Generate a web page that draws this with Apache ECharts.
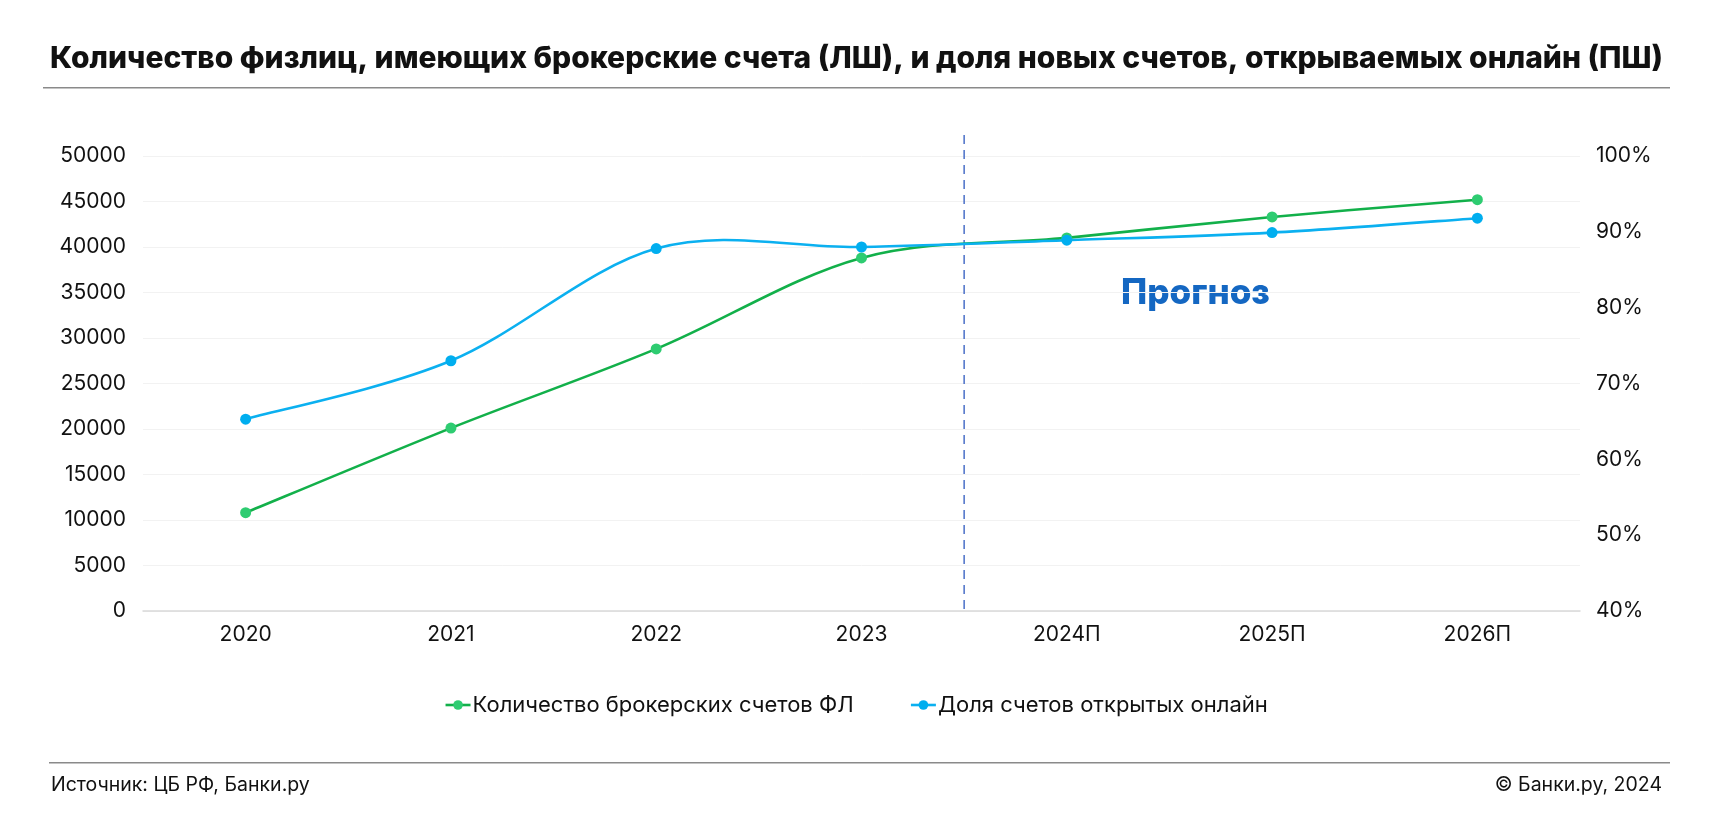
<!DOCTYPE html>
<html><head><meta charset="utf-8">
<script src="https://cdn.jsdelivr.net/npm/echarts@6/dist/echarts.min.js"></script>
<style>html,body{margin:0;padding:0;background:#fff}#c{width:1712px;height:826px}</style>
</head><body><div id="c"></div>
<script>
const categories = ['2020','2021','2022','2023','2024П','2025П','2026П'];
const accounts = [10800, 20100, 28800, 38800, 41000, 43300, 45200];
const onlineShare = [65.3, 73.0, 87.8, 88.0, 88.9, 89.9, 91.8];
const leftTicks = {min: 0, max: 50000, interval: 5000};
const rightTicks = {min: 40, max: 100, interval: 10};
const forecastBoundary = 3.5;
const forecastLineTop = 52300;
const titleText = 'Количество физлиц, имеющих брокерские счета (ЛШ), и доля новых счетов, открываемых онлайн (ПШ)';
const sourceText = 'Источник: ЦБ РФ, Банки.ру';
const copyrightText = '© Банки.ру, 2024';
const forecastText = 'Прогноз';
const seriesNames = ['Количество брокерских счетов ФЛ', 'Доля счетов открытых онлайн'];

const font = 'Inter';
const GREEN_LINE = '#12b04a', GREEN_DOT = '#2ecc71';
const BLUE_LINE = '#0bb0f0', BLUE_DOT = '#00aeef';

// Smooth curve (Catmull-Rom -> cubic Bezier) through points converted by the axes
function curveRenderer(values, color) {
  return function (params, api) {
    if (params.dataIndex !== 0) return null;
    const p = values.map((v, i) => api.coord([i, v]));
    const children = [];
    for (let i = 0; i < p.length - 1; i++) {
      const p0 = p[Math.max(i - 1, 0)], p1 = p[i], p2 = p[i + 1], p3 = p[Math.min(i + 2, p.length - 1)];
      const t = 1 / 6;
      children.push({
        type: 'bezierCurve',
        shape: {
          x1: p1[0], y1: p1[1], x2: p2[0], y2: p2[1],
          cpx1: p1[0] + (p2[0] - p0[0]) * t, cpy1: p1[1] + (p2[1] - p0[1]) * t,
          cpx2: p2[0] - (p3[0] - p1[0]) * t, cpy2: p2[1] - (p3[1] - p1[1]) * t
        },
        style: {stroke: color, lineWidth: 2.6, fill: null}
      });
    }
    return {type: 'group', children};
  };
}

const chart = echarts.init(document.getElementById('c'));
chart.setOption({
  animation: false,
  backgroundColor: '#fff',
  title: {
    text: titleText, left: 45, top: 39,
    textStyle: {fontFamily: font, fontWeight: 800, fontSize: 30, color: '#111'}
  },
  graphic: [
    {type: 'rect', shape: {x: 43, y: 87, width: 1627, height: 1.5}, style: {fill: '#8a8a8a'}},
    {type: 'rect', shape: {x: 49, y: 762, width: 1621, height: 1.5}, style: {fill: '#8a8a8a'}},
    {type: 'text', left: 51, top: 775, style: {text: sourceText, font: '19.5px ' + font, fill: '#111'}},
    {type: 'text', right: 50, top: 775, style: {text: copyrightText, font: '19.5px ' + font, fill: '#111'}},
    {type: 'text', left: 1121, top: 276, style: {text: forecastText, font: '800 35px ' + font, fill: '#1467c2'}}
  ],
  legend: {
    top: 689, left: 'center', itemGap: 56, itemWidth: 25, itemHeight: 12,
    textStyle: {fontFamily: font, fontSize: 22, color: '#111', padding: [0, 0, 0, -3]},
    data: [
      {name: seriesNames[0], lineStyle: {opacity: 1, width: 2.6, color: GREEN_LINE}},
      {name: seriesNames[1], lineStyle: {opacity: 1, width: 2.6, color: BLUE_LINE}}
    ]
  },
  grid: {left: 143, right: 132, top: 156, bottom: 215},
  xAxis: [{
    type: 'category', data: categories, boundaryGap: true,
    axisLine: {lineStyle: {color: '#d9d9d9', width: 1.5}}, axisTick: {show: false},
    axisLabel: {fontFamily: font, fontSize: 21, color: '#111', margin: 13}
  }, {
    type: 'value', min: -0.5, max: 6.5, show: false
  }],
  yAxis: [{
    type: 'value', min: leftTicks.min, max: leftTicks.max, interval: leftTicks.interval,
    axisLabel: {fontFamily: font, fontSize: 21, color: '#111', margin: 17, formatter: v => String(v)},
    splitLine: {lineStyle: {color: '#f2f2f2'}}, axisLine: {show: false, onZero: false}, axisTick: {show: false}
  }, {
    type: 'value', min: rightTicks.min, max: rightTicks.max, interval: rightTicks.interval,
    axisLabel: {fontFamily: font, fontSize: 21, color: '#111', margin: 16, formatter: '{value}%'},
    splitLine: {show: false}, axisLine: {show: false, onZero: false}, axisTick: {show: false}
  }],
  series: [{
    type: 'custom', xAxisIndex: 1, yAxisIndex: 0, silent: true, z: 1,
    data: [[forecastBoundary, 0]],
    renderItem: function (params, api) {
      const a = api.coord([api.value(0), forecastLineTop]);
      const b = api.coord([api.value(0), 0]);
      return {type: 'line', shape: {x1: a[0], y1: a[1], x2: b[0], y2: b[1]},
        style: {stroke: '#4a6fc8', lineWidth: 1.5, lineDash: [9, 6]}};
    }
  }, {
    type: 'custom', yAxisIndex: 0, silent: true, z: 2,
    data: accounts.map((v, i) => [i, v]),
    renderItem: curveRenderer(accounts, GREEN_LINE)
  }, {
    type: 'custom', yAxisIndex: 1, silent: true, z: 3,
    data: onlineShare.map((v, i) => [i, v]),
    renderItem: curveRenderer(onlineShare, BLUE_LINE)
  }, {
    name: seriesNames[0], type: 'line', data: accounts, yAxisIndex: 0,
    symbol: 'circle', symbolSize: 11, z: 4,
    lineStyle: {color: GREEN_LINE, width: 2.6, opacity: 0}, itemStyle: {color: GREEN_DOT}
  }, {
    name: seriesNames[1], type: 'line', data: onlineShare, yAxisIndex: 1,
    symbol: 'circle', symbolSize: 11, z: 5,
    lineStyle: {color: BLUE_LINE, width: 2.6, opacity: 0}, itemStyle: {color: BLUE_DOT}
  }]
});
</script></body></html>
